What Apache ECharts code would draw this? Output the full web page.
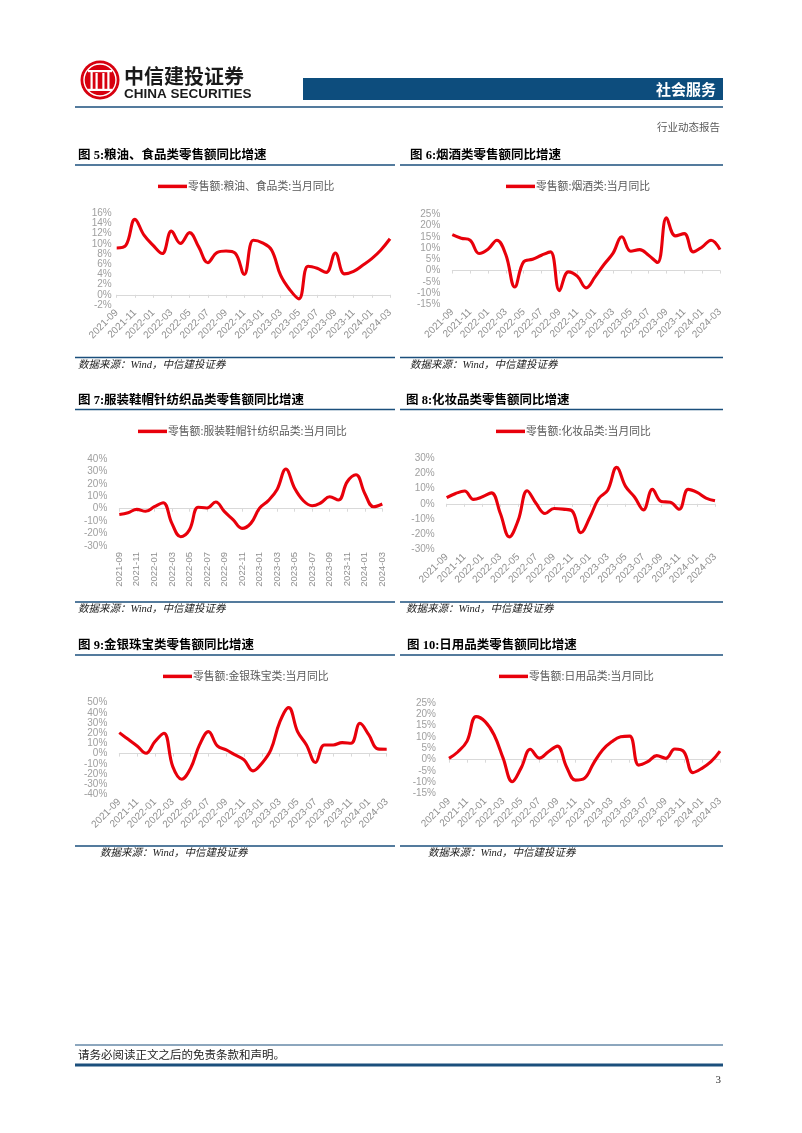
<!DOCTYPE html>
<html><head><meta charset="utf-8">
<script src="https://cdn.jsdelivr.net/npm/echarts@6/dist/echarts.min.js"></script>
<style>html,body{margin:0;padding:0;background:#fff}#c{width:802px;height:1133px}</style>
</head><body><div id="c"></div>
<script>
// ---- data ----
const months = ['2021-09','2021-10','2021-11','2021-12',
  '2022-01','2022-02','2022-03','2022-04','2022-05','2022-06','2022-07','2022-08','2022-09','2022-10','2022-11','2022-12',
  '2023-01','2023-02','2023-03','2023-04','2023-05','2023-06','2023-07','2023-08','2023-09','2023-10','2023-11','2023-12',
  '2024-01','2024-02','2024-03'];

const foodValues = [9.2, 9.7, 14.8, 11.7,
  9.7, 8.1, 12.5, 10.1, 12.2, 9.4, 6.3, 8.3, 8.6, 8.2, 4.0, 10.7,
  10.2, 8.8, 3.8, 1.0, -0.8, 5.6, 5.2, 4.4, 8.2, 4.1, 4.6, 5.8,
  7.1, 8.8, 11.0];
const tobaccoValues = [16.0, 14.4, 13.5, 7.6,
  9.5, 13.5, 7.0, -7.3, 3.9, 5.0, 6.8, 8.3, -8.9, -0.6, -2.5, -7.7,
  -2.8, 2.7, 7.6, 15.0, 8.6, 9.3, 6.8, 3.6, 23.4, 15.4, 16.4, 8.3,
  10.5, 13.5, 9.3];
const clothingValues = [-4.6, -3.2, -0.5, -2.1,
  1.6, 4.8, -11.8, -22.5, -17.0, 1.2, 0.6, 5.4, -2.4, -9.0, -15.8, -11.8,
  0.5, 6.5, 15.5, 32.0, 16.4, 6.4, 2.4, 4.8, 9.6, 7.0, 21.7, 27.3,
  12.3, 1.6, 3.8];
const cosmeticsValues = [4.0, 6.8, 8.4, 2.9,
  4.6, 7.2, -6.4, -21.8, -10.8, 8.6, 0.2, -6.4, -3.1, -3.5, -4.6, -19.1,
  -9.0, 3.5, 9.0, 24.0, 11.5, 4.5, -4.0, 9.5, 1.5, 1.0, -3.6, 9.5,
  7.5, 3.8, 2.0];
const jewelryValues = [20.6, 14.0, 7.5, 0.3,
  11.8, 20.0, -12.8, -25.2, -14.4, 8.5, 21.6, 7.5, 3.6, -1.3, -6.2, -17.0,
  -9.5, 3.6, 31.0, 45.2, 21.6, 8.5, -8.8, 8.5, 8.5, 10.8, 10.1, 29.8,
  18.3, 4.6, 4.3];
const dailyValues = [0.6, 3.5, 8.2, 19.0,
  16.8, 10.9, 0.6, -9.7, -3.5, 4.6, 0.7, 3.5, 6.0, -3.1, -9.0, -8.2,
  -1.6, 4.3, 7.9, 10.1, 10.4, -2.4, -0.9, 1.8, 0.6, 4.7, 3.5, -5.7,
  -3.8, -0.9, 3.8];

const seriesNames = ['零售额:粮油、食品类:当月同比','零售额:烟酒类:当月同比','零售额:服装鞋帽针纺织品类:当月同比',
  '零售额:化妆品类:当月同比','零售额:金银珠宝类:当月同比','零售额:日用品类:当月同比'];
const chartTitles = ['图 5:粮油、食品类零售额同比增速','图 6:烟酒类零售额同比增速','图 7:服装鞋帽针纺织品类零售额同比增速',
  '图 8:化妆品类零售额同比增速','图 9:金银珠宝类零售额同比增速','图 10:日用品类零售额同比增速'];
const yMins = [-2, -15, -30, -30, -40, -15];
const yMaxs = [16, 25, 40, 30, 50, 25];
const yIntervals = [2, 5, 10, 10, 10, 5];
const sourceText = '数据来源：Wind，中信建投证券';
const seriesData = [foodValues, tobaccoValues, clothingValues, cosmeticsValues, jewelryValues, dailyValues];

// ---- layout ----
const grids = [
  {left:116.7, top:213.3, width:273.3, height:91.7},
  {left:452.3, top:214.3, width:267.7, height:90},
  {left:119.3, top:459,   width:263,   height:87},
  {left:446.7, top:458.3, width:268.3, height:91},
  {left:119.3, top:702.7, width:267.4, height:91.6},
  {left:449,   top:703,   width:271,   height:90.7}
];
const legendPos = [{left:153, top:176},{left:501, top:176},{left:133, top:421},{left:491, top:421},{left:158, top:666},{left:494, top:666}];
const labelRotate = [45,45,90,45,45,45];
const yLabelMargin = [5,12,12,12,12,13];
const titlePos = [{x:78,y:156},{x:410,y:156},{x:78,y:401},{x:406,y:401},{x:78,y:646},{x:407,y:646}];
const srcPos = [{x:78,y:365},{x:410,y:365},{x:78,y:609},{x:406,y:609},{x:100,y:853},{x:428,y:853}];

const BLUE = '#1B4F7C';
const RED = '#E8000B';
const gridArr = [], xAxes = [], yAxes = [], series = [], legends = [];
for (let i = 0; i < 6; i++) {
  gridArr.push(Object.assign({containLabel:false}, grids[i]));
  xAxes.push({
    type:'category', gridIndex:i, data:months, boundaryGap:false, position:'bottom',
    axisLine:{show:false, onZero:false}, axisTick:{show:false}, splitLine:{show:false},
    axisLabel:{interval:1, rotate:labelRotate[i], margin:6, color:'#8F8F8F',
      fontSize: labelRotate[i]===90 ? 9.5 : 10, fontFamily:'"Liberation Sans", Arial, sans-serif'}
  });
  xAxes.push({
    type:'category', gridIndex:i, data:months, boundaryGap:false, position:'bottom',
    axisLine:{show:true, onZero:true, lineStyle:{color:'#D9D9D9', width:1}},
    axisTick:{show:true, interval:1, length:3, lineStyle:{color:'#D9D9D9'}},
    axisLabel:{show:false}, splitLine:{show:false}
  });
  yAxes.push({
    type:'value', gridIndex:i, min:yMins[i], max:yMaxs[i], interval:yIntervals[i],
    axisLine:{show:false}, axisTick:{show:false}, splitLine:{show:false},
    axisLabel:{formatter:'{value}%', color:'#A0A0A0', fontSize:10, margin:yLabelMargin[i],
      fontFamily:'"Liberation Sans", Arial, sans-serif'}
  });
  series.push({
    type:'line', name:seriesNames[i], xAxisIndex:2*i, yAxisIndex:i, data:seriesData[i],
    smooth:0.4, symbol:'none', lineStyle:{color:RED, width:3.1}, itemStyle:{color:RED}, z:3
  });
  legends.push({
    data:[seriesNames[i]], left:legendPos[i].left, top:legendPos[i].top, icon:'rect',
    itemWidth:29, itemHeight:3.5, itemGap:4, selectedMode:false,
    textStyle:{color:'#595959', fontSize:10.8, fontFamily:'"Noto Sans CJK SC", sans-serif', padding:[0,0,0,-4]}
  });
}

// ---- page graphics ----
const g = [];
// logo
g.push({type:'circle', shape:{cx:100, cy:80, r:19.5}, style:{fill:'#D7000F'}});
g.push({type:'circle', shape:{cx:100, cy:80, r:16}, style:{fill:'none', stroke:'#fff', lineWidth:1.4}});
g.push({type:'rect', shape:{x:90.5, y:70, width:2.2, height:21}, style:{fill:'#fff'}});
g.push({type:'rect', shape:{x:95.5, y:73, width:2.2, height:18}, style:{fill:'#fff'}});
g.push({type:'rect', shape:{x:102.3, y:73, width:2.2, height:18}, style:{fill:'#fff'}});
g.push({type:'rect', shape:{x:107.3, y:70, width:2.2, height:21}, style:{fill:'#fff'}});
g.push({type:'rect', shape:{x:88, y:70, width:24, height:2.2}, style:{fill:'#fff'}});
g.push({type:'rect', shape:{x:88, y:88.8, width:24, height:2.2}, style:{fill:'#fff'}});
g.push({type:'text', style:{text:'中信建投证券', x:124, y:76, font:'bold 20px "Noto Sans CJK SC", sans-serif', fill:'#1A1A1A', textAlign:'left', textVerticalAlign:'middle'}});
g.push({type:'text', style:{text:'CHINA SECURITIES', x:124, y:94.5, font:'bold 13.5px "Liberation Sans Narrow", "Liberation Sans", sans-serif', fill:'#1A1A1A', textAlign:'left', textVerticalAlign:'middle'}});
// header bar
g.push({type:'rect', shape:{x:303, y:78, width:420, height:22}, style:{fill:'#0D4D7D'}});
g.push({type:'text', style:{text:'社会服务', x:716, y:89.5, font:'bold 15px "Noto Sans CJK SC", sans-serif', fill:'#fff', textAlign:'right', textVerticalAlign:'middle'}});
g.push({type:'line', shape:{x1:75, y1:107, x2:723, y2:107}, style:{stroke:BLUE, lineWidth:1.3}});
g.push({type:'text', style:{text:'行业动态报告', x:720, y:127, font:'10.5px "Noto Sans CJK SC", sans-serif', fill:'#595959', textAlign:'right', textVerticalAlign:'middle'}});
// chart titles and rules
const ruleX = [[75,395],[400,723]];
const titleRuleY = [165, 409.5, 655];
const srcRuleY = [357.5, 602, 846];
for (let i = 0; i < 6; i++) {
  const col = i % 2, row = Math.floor(i/2);
  g.push({type:'text', style:{text:chartTitles[i], x:titlePos[i].x, y:titlePos[i].y, font:'bold 12.5px "Liberation Serif", "Noto Sans CJK SC", serif', fill:'#000', textAlign:'left', textVerticalAlign:'middle'}});
  g.push({type:'line', shape:{x1:ruleX[col][0], y1:titleRuleY[row], x2:ruleX[col][1], y2:titleRuleY[row]}, style:{stroke:BLUE, lineWidth:1.6}});
  g.push({type:'line', shape:{x1:ruleX[col][0], y1:srcRuleY[row], x2:ruleX[col][1], y2:srcRuleY[row]}, style:{stroke:BLUE, lineWidth:1.3}});
  g.push({type:'text', style:{text:sourceText, x:srcPos[i].x, y:srcPos[i].y, font:'italic 10.5px "Liberation Serif", "Noto Sans CJK SC", serif', fill:'#222', textAlign:'left', textVerticalAlign:'middle'}});
}
// footer
g.push({type:'line', shape:{x1:75, y1:1045, x2:723, y2:1045}, style:{stroke:BLUE, lineWidth:1}});
g.push({type:'text', style:{text:'请务必阅读正文之后的免责条款和声明。', x:78, y:1055, font:'11.5px "Noto Sans CJK SC", serif', fill:'#222', textAlign:'left', textVerticalAlign:'middle'}});
g.push({type:'line', shape:{x1:75, y1:1065, x2:723, y2:1065}, style:{stroke:BLUE, lineWidth:2.8}});
g.push({type:'text', style:{text:'3', x:721, y:1080, font:'11px "Liberation Serif", serif', fill:'#333', textAlign:'right', textVerticalAlign:'middle'}});

const chart = echarts.init(document.getElementById('c'), null, {renderer:'canvas'});
chart.setOption({
  backgroundColor:'#fff', animation:false,
  grid:gridArr, xAxis:xAxes, yAxis:yAxes, series:series, legend:legends,
  graphic:{elements:g}
});
</script>
</body></html>
